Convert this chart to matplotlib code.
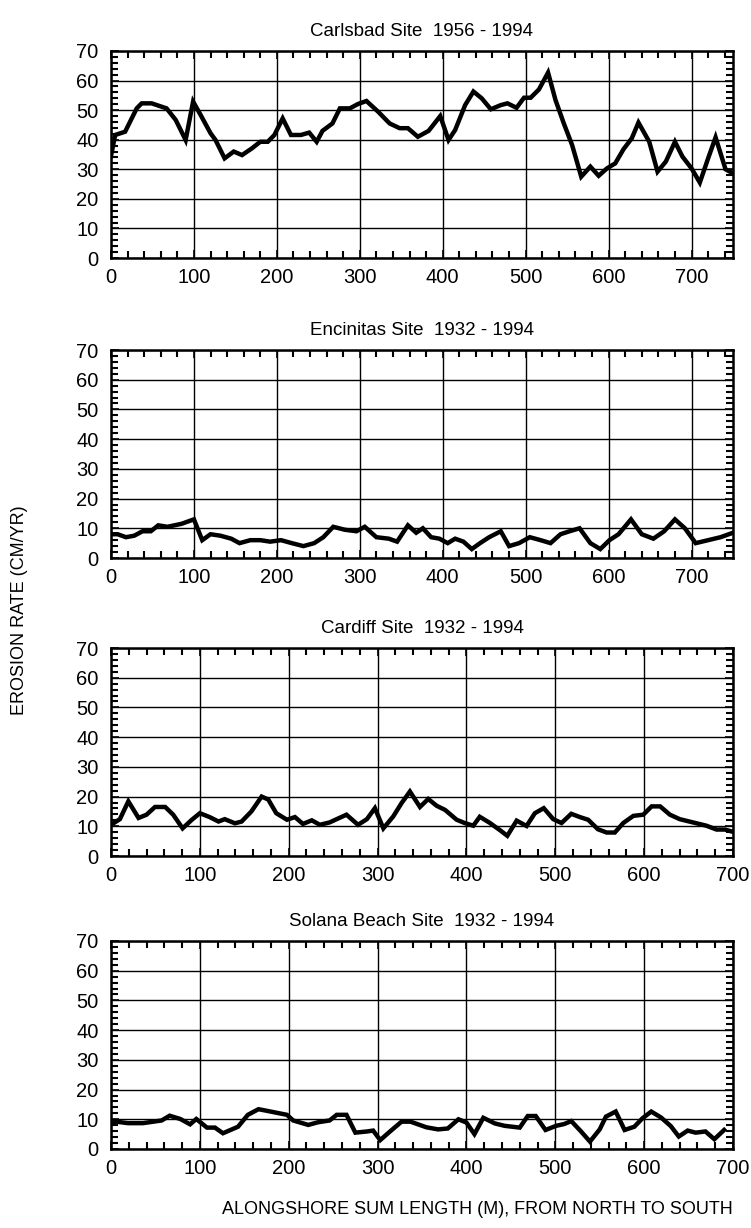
import matplotlib
matplotlib.use("Agg")
import matplotlib.pyplot as plt
from matplotlib.ticker import MultipleLocator

plt.rcParams['font.family'] = ['Liberation Sans', 'DejaVu Sans']

titles = ["Carlsbad Site  1956 - 1994", "Encinitas Site  1932 - 1994",
          "Cardiff Site  1932 - 1994", "Solana Beach Site  1932 - 1994"]
xmax = [750, 750, 700, 700]

carlsbad_x = [0, 5, 17, 31, 37, 49, 67, 78, 90, 99, 108, 120, 126, 137, 148, 158, 170, 180, 189, 197,
              207, 217, 229, 239, 248, 255, 267, 276, 288, 298, 308, 322, 336, 348, 358, 370, 383, 397, 407, 415,
              427, 437, 447, 458, 470, 478, 489, 498, 506, 516, 527, 536, 546, 556, 567, 578, 588, 598, 608, 618,
              628, 636, 649, 659, 669, 680, 689, 700, 710, 720, 729, 741, 750]
carlsbad_y = [34.5, 41.6, 42.7, 50.6, 52.3, 52.3, 50.6, 46.7, 39.9, 52.9, 48.4, 42.2, 39.9, 33.7, 36, 34.8, 37.1, 39.3, 39.3, 41.6,
              47.2, 41.6, 41.6, 42.4, 39.3, 43, 45.5, 50.6, 50.6, 52.1, 53.1, 49.5, 45.5, 43.9, 43.9, 41, 43, 48, 39.9, 43.3,
              51.7, 56.3, 54, 50.3, 51.7, 52.3, 50.8, 54.2, 54.2, 57, 62.7, 53.4, 45.5, 38.2, 27.5, 30.9, 27.8, 30.3, 32, 36.8,
              40.5, 45.8, 39.3, 29.2, 32.6, 39.3, 34.3, 30.3, 25.5, 33.7, 40.8, 30, 28.6]

encinitas_x = [0, 8, 18, 28, 38, 48, 57, 68, 85, 100, 110, 120, 132, 145, 155, 168, 180, 192, 205, 218,
               232, 245, 256, 268, 282, 296, 306, 320, 335, 345, 358, 368, 376, 386, 396, 406, 415, 425, 435, 445,
               456, 470, 480, 492, 505, 518, 530, 542, 553, 565, 578, 590, 601, 612, 627, 640, 654, 667, 680, 692,
               705, 720, 735, 750]
encinitas_y = [8, 8, 7, 7.5, 9, 9, 11, 10.5, 11.5, 13, 6, 8, 7.5, 6.5, 5, 6, 6, 5.5, 6, 5,
               4, 5, 7, 10.5, 9.5, 9, 10.5, 7, 6.5, 5.5, 11, 8.5, 10, 7, 6.5, 5, 6.5, 5.5, 3, 5,
               7, 9, 4, 5, 7, 6, 5, 8, 9, 10, 5, 3, 6, 8, 13, 8, 6.5, 9, 13, 10,
               5, 6, 7, 8.5]

cardiff_x = [0, 10, 19.5, 31, 40, 49.5, 61, 70, 80.6, 91, 100, 111, 121, 128, 139.5, 147, 158, 169.5, 177, 186,
             198, 207, 216, 226, 235, 246, 254, 265, 278, 288, 297, 306.5, 317.6, 327, 336.4, 347.7, 357, 366.5, 376, 389,
             398, 407.7, 415, 426, 437.7, 446, 456.5, 467.7, 477, 487, 497.7, 507, 518, 527.7, 537, 548, 557.8, 567, 576.5, 587.8,
             599, 608.4, 618, 629, 640, 655, 670, 681.5, 691, 698]
cardiff_y = [10.5, 12.4, 18.4, 12.8, 13.9, 16.5, 16.5, 13.9, 9.3, 12.2, 14.4, 13.1, 11.6, 12.4, 11, 11.6, 15, 20, 19, 14.4,
             12.2, 13.1, 10.8, 12, 10.5, 11.3, 12.4, 13.9, 10.5, 12.4, 16.1, 9.3, 13.3, 17.8, 21.7, 16.5, 19.2, 16.9, 15.5, 12.2,
             11.1, 10.2, 13.2, 11.2, 8.7, 6.8, 11.9, 10.1, 14.4, 16.1, 12.4, 11.1, 14.2, 13.1, 12.2, 9, 7.9, 7.9, 11.1, 13.5,
             13.9, 16.7, 16.7, 13.9, 12.4, 11.3, 10.2, 8.9, 8.9, 8.3]

solana_x = [0, 6, 19, 36, 57, 66, 78, 89, 96, 108, 117, 126, 143, 154, 166, 183, 198, 205, 222, 233,
            246, 254, 265, 275, 288, 295, 303, 314, 327, 337, 355, 368, 379, 391, 400, 409, 419, 432, 443, 460,
            469, 478, 489, 501, 510, 518, 529, 539, 550, 557, 568, 578, 589, 598, 608, 619, 630, 639, 649, 658,
            669, 679, 690]
solana_y = [9, 9.2, 8.7, 8.7, 9.6, 11.2, 10.1, 8.3, 10.1, 7.2, 7.2, 5.3, 7.5, 11.5, 13.4, 12.4, 11.5, 9.6, 8.1, 9,
            9.6, 11.5, 11.5, 5.5, 5.9, 6.2, 3, 5.9, 9.2, 9.2, 7.3, 6.6, 6.9, 10, 8.9, 5, 10.5, 8.6, 7.8, 7.2,
            11.1, 11.1, 6.4, 7.8, 8.4, 9.4, 5.9, 2.5, 6.6, 10.9, 12.6, 6.4, 7.5, 10.3, 12.6, 10.6, 7.7, 4.2, 6.2, 5.5,
            5.9, 3.3, 6.4]

series = [(carlsbad_x, carlsbad_y), (encinitas_x, encinitas_y),
          (cardiff_x, cardiff_y), (solana_x, solana_y)]

W, H = 751, 1228
fig = plt.figure(figsize=(W / 100, H / 100), dpi=100)

left, right = 111, 733
tops = [51, 350, 648, 941]
bottoms = [258, 558, 856, 1149]

for i in range(4):
    ax = fig.add_axes([left / W, 1 - bottoms[i] / H, (right - left) / W, (bottoms[i] - tops[i]) / H])
    x, y = series[i]
    ax.plot(x, y, color='black', lw=3.2, solid_joinstyle='miter', zorder=3)
    ax.set_xlim(0, xmax[i])
    ax.set_ylim(0, 70)
    ax.xaxis.set_major_locator(MultipleLocator(100))
    ax.xaxis.set_minor_locator(MultipleLocator(20))
    ax.yaxis.set_major_locator(MultipleLocator(10))
    ax.yaxis.set_minor_locator(MultipleLocator(2))
    ax.grid(True, which='major', color='black', lw=1.0)
    ax.tick_params(which='both', direction='in', top=True, right=True, color='black')
    ax.tick_params(which='major', length=6, width=1.2, labelsize=14.5)
    ax.tick_params(which='minor', length=5, width=1.5)
    ax.tick_params(axis='x', which='major', pad=7)
    ax.tick_params(axis='y', which='major', pad=9)
    for sp in ax.spines.values():
        sp.set_linewidth(1.8)
    ax.set_title(titles[i], fontsize=13.5, pad=11)

fig.text(20 / W, 1 - 610 / H, "EROSION RATE (CM/YR)", rotation=90, ha='center', va='center', fontsize=13)
fig.text(477 / W, 1 - 1210 / H, "ALONGSHORE SUM LENGTH (M), FROM NORTH TO SOUTH", ha='center', va='center', fontsize=13)

fig.savefig("out.png", dpi=100)
